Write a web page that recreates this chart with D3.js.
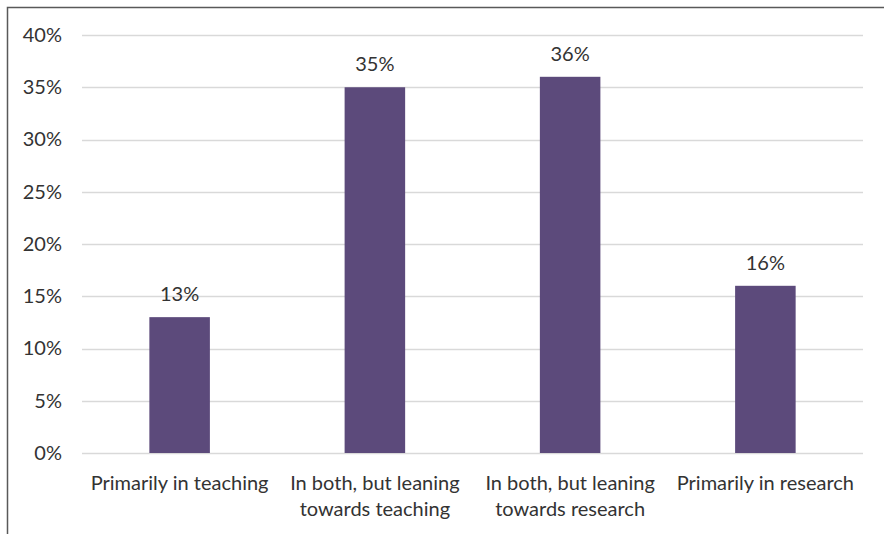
<!DOCTYPE html>
<html>
<head>
<meta charset="utf-8">
<script src="https://cdn.jsdelivr.net/npm/d3@7"></script>
<style>
  html, body { margin: 0; padding: 0; background: #fff; }
  svg { display: block; }
  text { font-family: Lato, "Open Sans", sans-serif; fill: #333333; }
</style>
</head>
<body>
<svg id="chart" width="884" height="534"></svg>
<script>
// Where respondents' work is focused, share of responses
const categories = [
  ["Primarily in teaching"],
  ["In both, but leaning", "towards teaching"],
  ["In both, but leaning", "towards research"],
  ["Primarily in research"]
];
const shares = [0.13, 0.35, 0.36, 0.16];
const yTicks = [0, 0.05, 0.10, 0.15, 0.20, 0.25, 0.30, 0.35, 0.40];

const W = 884, H = 534;
const margin = { left: 82, right: 21, top: 35, bottom: 81 };
const fontSize = "20px";
const textColor = "#333333";
const svg = d3.select("#chart");

// chart frame (top and left edges)
svg.append("path")
  .attr("d", `M7.5,${H} V7.5 H${W}`)
  .attr("fill", "none")
  .attr("stroke", "#595959")
  .attr("stroke-width", 1.5);

const x = d3.scaleBand()
  .domain(d3.range(categories.length))
  .range([margin.left, W - margin.right])
  .paddingInner(0.69)
  .paddingOuter(0.345);

const y = d3.scaleLinear()
  .domain([0, 0.40])
  .range([H - margin.bottom, margin.top]);

// horizontal gridlines
svg.append("g")
  .selectAll("line")
  .data(yTicks)
  .join("line")
  .attr("x1", margin.left)
  .attr("x2", W - margin.right)
  .attr("y1", d => Math.round(y(d)) + 0.5)
  .attr("y2", d => Math.round(y(d)) + 0.5)
  .attr("stroke", "#d9d9d9")
  .attr("stroke-width", 1.5);

// y axis labels
const yAxis = d3.axisLeft(y)
  .tickValues(yTicks)
  .tickFormat(d3.format(".0%"))
  .tickSize(0)
  .tickPadding(0);
const yg = svg.append("g")
  .attr("transform", `translate(${margin.left - 20},0)`)
  .call(yAxis);
yg.select(".domain").remove();
yg.selectAll("text")
  .style("font-family", "Lato, 'Open Sans', sans-serif")
  .style("font-size", fontSize)
  .attr("fill", textColor);

// bars
svg.append("g")
  .selectAll("rect")
  .data(shares)
  .join("rect")
  .attr("x", (d, i) => x(i))
  .attr("width", x.bandwidth())
  .attr("y", d => y(d))
  .attr("height", d => y(0) - y(d))
  .attr("fill", "#5c4a7b");

// value labels
svg.append("g")
  .selectAll("text")
  .data(shares)
  .join("text")
  .attr("x", (d, i) => x(i) + x.bandwidth() / 2)
  .attr("y", d => y(d) - 16)
  .attr("text-anchor", "middle")
  .style("font-size", fontSize)
  .text(d => d3.format(".0%")(d));

// category labels
const xg = svg.append("g");
categories.forEach((lines, i) => {
  const t = xg.append("text")
    .attr("x", x(i) + x.bandwidth() / 2)
    .attr("y", y(0) + 37)
    .attr("text-anchor", "middle")
    .style("font-size", fontSize);
  lines.forEach((line, j) => {
    t.append("tspan")
      .attr("x", x(i) + x.bandwidth() / 2)
      .attr("dy", j === 0 ? 0 : 26)
      .text(line);
  });
});
</script>
</body>
</html>
